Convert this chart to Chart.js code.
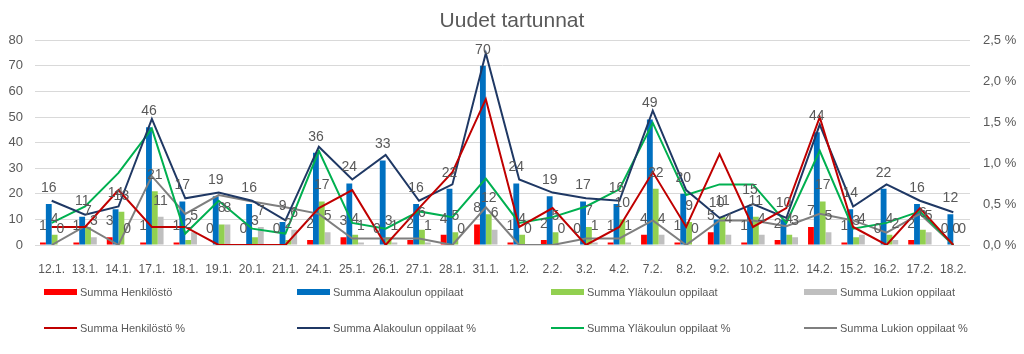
<!DOCTYPE html>
<html>
<head>
<meta charset="utf-8">
<script src="https://cdn.jsdelivr.net/npm/chart.js@4.4.1/dist/chart.umd.min.js"></script>
<style>
    html, body { margin: 0; padding: 0; background: #fff; }
    #wrap { position: relative; width: 1024px; height: 354px; }
    #legend { position: absolute; left: 0; top: 278px; width: 1024px; height: 76px;
              font-family: "Liberation Sans", Arial, sans-serif; font-size: 11px; color: #595959; }
    .item { position: absolute; height: 14px; display: flex; align-items: center; white-space: nowrap; }
    .swatch { width: 33px; margin-right: 3px; }
</style>
</head>
<body>
<div id="wrap">
    <canvas id="chart" width="1024" height="354"></canvas>
    <div id="legend"></div>
</div>
<script>
var categories = ['12.1.', '13.1.', '14.1.', '17.1.', '18.1.', '19.1.', '20.1.', '21.1.', '24.1.', '25.1.',
    '26.1.', '27.1.', '28.1.', '31.1.', '1.2.', '2.2.', '3.2.', '4.2.', '7.2.', '8.2.', '9.2.', '10.2.',
    '11.2.', '14.2.', '15.2.', '16.2.', '17.2.', '18.2.'];

// counts (left axis)
var henkilosto = [1, 1, 3, 1, 1, 0, 0, 0, 2, 3, 0, 2, 4, 8, 1, 2, 0, 1, 4, 1, 5, 1, 2, 7, 1, 0, 2, 0];
var alakoulu = [16, 11, 14, 46, 17, 19, 16, 9, 36, 24, 33, 16, 22, 70, 24, 19, 17, 16, 49, 20, 10, 15, 10, 44, 14, 22, 16, 12];
var ylakoulu = [4, 7, 13, 21, 2, 8, 3, 2, 17, 4, 3, 6, 5, 12, 4, 5, 7, 10, 22, 9, 11, 11, 4, 17, 3, 4, 6, 0];
var lukio = [0, 3, 0, 11, 5, 8, 7, 6, 5, 1, 1, 1, 0, 6, 0, 0, 1, 1, 4, 0, 4, 4, 3, 5, 4, 2, 5, 0];

// percentages (right axis)
var henkilostoPct = [0.22, 0.22, 0.67, 0.22, 0.22, 0, 0, 0, 0.45, 0.67, 0, 0.45, 0.89, 1.78, 0.22, 0.45, 0, 0.22, 0.89, 0.22, 1.11, 0.22, 0.45, 1.56, 0.22, 0, 0.45, 0];
var alakouluPct = [0.54, 0.37, 0.47, 1.54, 0.57, 0.64, 0.54, 0.30, 1.20, 0.80, 1.10, 0.54, 0.74, 2.34, 0.80, 0.64, 0.57, 0.54, 1.64, 0.67, 0.33, 0.50, 0.33, 1.47, 0.47, 0.74, 0.54, 0.40];
var ylakouluPct = [0.27, 0.47, 0.88, 1.42, 0.14, 0.54, 0.20, 0.14, 1.15, 0.27, 0.20, 0.41, 0.34, 0.81, 0.27, 0.34, 0.47, 0.68, 1.49, 0.61, 0.74, 0.74, 0.27, 1.15, 0.20, 0.27, 0.41, 0];
var lukioPct = [0, 0.23, 0, 0.84, 0.38, 0.61, 0.53, 0.46, 0.38, 0.08, 0.08, 0.08, 0, 0.46, 0, 0, 0.08, 0.08, 0.30, 0, 0.30, 0.30, 0.23, 0.38, 0.30, 0.15, 0.38, 0];

var leftTicks = { min: 0, max: 80, step: 10 };
var rightTicks = { min: 0, max: 2.5, step: 0.5 };

var FONT = '"Liberation Sans", Arial, sans-serif';
var TEXT = '#595959';

function barSet(label, data, color) {
    return { type: 'bar', label: label, data: data, backgroundColor: color, yAxisID: 'y', order: 2,
             barPercentage: 1.0, categoryPercentage: 0.7 };
}
function lineSet(label, data, color) {
    return { type: 'line', label: label, data: data, borderColor: color, backgroundColor: color, yAxisID: 'y1',
             order: 1, borderWidth: 2, pointRadius: 0, tension: 0, fill: false };
}

// value labels above the bars
var barLabels = {
    id: 'barLabels',
    afterDatasetsDraw: function (chart) {
        var ctx = chart.ctx;
        ctx.save();
        ctx.font = '14px ' + FONT;
        ctx.fillStyle = TEXT;
        ctx.textAlign = 'center';
        ctx.textBaseline = 'middle';
        chart.data.datasets.forEach(function (ds, i) {
            if (ds.type !== 'bar') return;
            chart.getDatasetMeta(i).data.forEach(function (bar, j) {
                ctx.fillText(ds.data[j], bar.x, bar.y - 16);
            });
        });
        ctx.restore();
    }
};

var chart = new Chart(document.getElementById('chart'), {
    data: {
        labels: categories,
        datasets: [
            barSet('Summa Henkilöstö', henkilosto, '#ff0000'),
            barSet('Summa Alakoulun oppilaat', alakoulu, '#0070c0'),
            barSet('Summa Yläkoulun oppilaat', ylakoulu, '#92d050'),
            barSet('Summa Lukion oppilaat', lukio, '#bfbfbf'),
            lineSet('Summa Henkilöstö %', henkilostoPct, '#c00000'),
            lineSet('Summa Alakoulun oppilaat %', alakouluPct, '#1f3864'),
            lineSet('Summa Yläkoulun oppilaat %', ylakouluPct, '#00b050'),
            lineSet('Summa Lukion oppilaat %', lukioPct, '#7f7f7f')
        ]
    },
    plugins: [barLabels],
    options: {
        responsive: false,
        animation: false,
        devicePixelRatio: 1,
        layout: { padding: 0 },
        plugins: {
            legend: { display: false },
            tooltip: { enabled: false },
            title: {
                display: true,
                text: 'Uudet tartunnat',
                color: TEXT,
                font: { family: FONT, size: 21, weight: 'normal' },
                padding: { top: 9, bottom: 6 }
            }
        },
        scales: {
            x: {
                grid: { display: false },
                border: { display: false },
                ticks: { color: TEXT, font: { family: FONT, size: 12 }, padding: 9, maxRotation: 0, autoSkip: false },
                afterFit: function (s) { s.height = 109; }
            },
            y: {
                position: 'left',
                min: leftTicks.min, max: leftTicks.max,
                grid: { color: '#d9d9d9', drawTicks: false },
                border: { display: false },
                ticks: { stepSize: leftTicks.step, color: TEXT, font: { family: FONT, size: 13 }, padding: 12 },
                afterFit: function (s) { s.width = 35; }
            },
            y1: {
                position: 'right',
                min: rightTicks.min, max: rightTicks.max,
                grid: { drawOnChartArea: false, drawTicks: false },
                border: { display: false },
                ticks: {
                    stepSize: rightTicks.step, color: TEXT, font: { family: FONT, size: 13 }, padding: 13,
                    callback: function (v) { return v.toFixed(1).replace('.', ',') + ' %'; }
                },
                afterFit: function (s) { s.width = 54; }
            }
        }
    }
});

// legend: bars on the first row, lines on the second
var legendCols = [44, 297, 551, 804];
var legendRows = [7, 43];
var legend = document.getElementById('legend');
chart.data.datasets.forEach(function (ds, i) {
    var item = document.createElement('div');
    item.className = 'item';
    item.style.left = legendCols[i % 4] + 'px';
    item.style.top = legendRows[Math.floor(i / 4)] + 'px';
    var sw = document.createElement('span');
    sw.className = 'swatch';
    if (ds.type === 'bar') {
        sw.style.height = '6px';
        sw.style.background = ds.backgroundColor;
    } else {
        sw.style.height = '2px';
        sw.style.background = ds.borderColor;
    }
    var txt = document.createElement('span');
    txt.textContent = ds.label;
    item.appendChild(sw);
    item.appendChild(txt);
    legend.appendChild(item);
});
</script>
</body>
</html>
